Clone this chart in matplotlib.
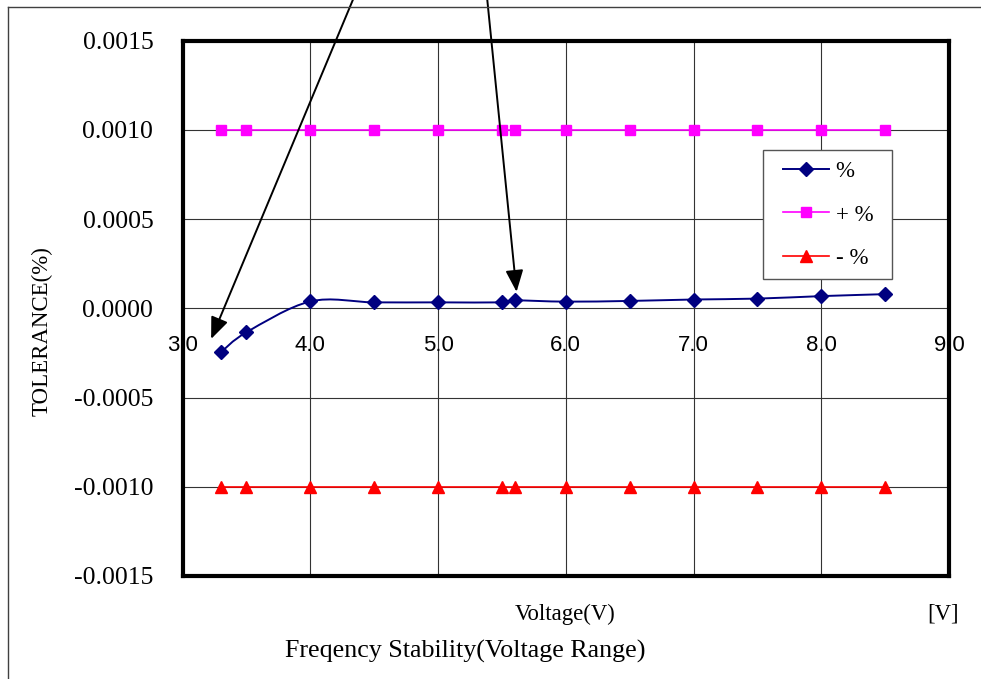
import matplotlib
matplotlib.use("Agg")
import matplotlib.pyplot as plt
from matplotlib.lines import Line2D
from matplotlib.path import Path
from matplotlib.patches import PathPatch, Rectangle
from matplotlib.transforms import ScaledTranslation
import numpy as np

# ---- data ----
voltage = [3.3, 3.5, 4.0, 4.5, 5.0, 5.5, 5.6, 6.0, 6.5, 7.0, 7.5, 8.0, 8.5]
tol_pct = [-0.000247, -0.000135, 0.000038, 0.000033, 0.000033, 0.000033,
           0.000044, 0.000037, 0.000041, 0.000049, 0.000054, 0.000068, 0.000079]
tol_plus = [0.0010] * len(voltage)
tol_minus = [-0.0010] * len(voltage)

x_ticks = [3.0, 4.0, 5.0, 6.0, 7.0, 8.0, 9.0]
y_ticks = [0.0015, 0.0010, 0.0005, 0.0, -0.0005, -0.0010, -0.0015]

NAVY = "#000080"
MAGENTA = "#FF00FF"
RED = "#FF0000"
SERIF = "Liberation Serif"
SANS = "Liberation Sans"

W, H = 981, 679


def smooth_path(xs, ys):
    """Catmull-Rom style bezier through the points (spreadsheet 'smoothed line')."""
    pts = np.column_stack([xs, ys])
    ext = np.vstack([pts[0], pts, pts[-1]])
    verts = [tuple(pts[0])]
    codes = [Path.MOVETO]
    for i in range(len(pts) - 1):
        p0, p1, p2, p3 = ext[i], ext[i + 1], ext[i + 2], ext[i + 3]
        c1 = p1 + (p2 - p0) / 6.0
        c2 = p2 - (p3 - p1) / 6.0
        verts += [tuple(c1), tuple(c2), tuple(p2)]
        codes += [Path.CURVE4] * 3
    return Path(verts, codes)


fig = plt.figure(figsize=(W / 100, H / 100), dpi=100)
ax = fig.add_axes([182.5 / W, 1 - 576 / H, (949 - 182.5) / W, (576 - 40.5) / H])

# outer frame (top and left edges only visible)
fig.add_artist(Line2D([8 / W, 1.0], [1 - 7 / H, 1 - 7 / H],
                      transform=fig.transFigure, color="#404040", lw=1.0))
fig.add_artist(Line2D([8 / W, 8 / W], [1 - 7 / H, 0.0],
                      transform=fig.transFigure, color="#404040", lw=1.0))

ax.set_xlim(3.0, 9.0)
ax.set_ylim(-0.0015, 0.0015)

for xv in x_ticks[1:-1]:
    ax.axvline(xv, color="#333333", lw=0.8, zorder=0)
for yv in y_ticks[1:-1]:
    ax.axhline(yv, color="#333333", lw=0.8, zorder=0)

# series
ax.add_patch(PathPatch(smooth_path(voltage, tol_pct), facecolor="none",
                       edgecolor=NAVY, lw=1.4, zorder=3))
ax.plot(voltage, tol_pct, linestyle="none", marker="D", ms=7,
        color=NAVY, zorder=4)
ax.plot(voltage, tol_plus, color=MAGENTA, lw=1.2, marker="s", ms=7, zorder=3)
ax.plot(voltage, tol_minus, color=RED, lw=1.2, marker="^", ms=8, zorder=3)

# frame
for sp in ax.spines.values():
    sp.set_linewidth(3.0)
    sp.set_color("black")

# y ticks on the left
ax.set_yticks(y_ticks)
ax.set_yticklabels([f"{v:.4f}" for v in y_ticks], fontfamily=SERIF, fontsize=18.5)
ax.tick_params(axis="y", length=0, pad=21)

# x tick labels sit under the zero line
ax.set_xticks([])
below_zero = ax.transData + ScaledTranslation(0, -0.265, fig.dpi_scale_trans)
for xv in x_ticks:
    ax.text(xv, 0.0, f"{xv:.1f}", transform=below_zero, ha="center", va="top",
            fontfamily=SANS, fontsize=16, clip_on=False, zorder=6)

# legend: hand-drawn frame, frameless legend inside it
fig.add_artist(Rectangle((763 / W, 1 - 279 / H), 129 / W, 129 / H,
                         transform=fig.transFigure, facecolor="white",
                         edgecolor="#555555", lw=1.0, zorder=5))
handles = [
    Line2D([], [], color=NAVY, lw=1.4, marker="D", ms=7),
    Line2D([], [], color=MAGENTA, lw=1.2, marker="s", ms=7),
    Line2D([], [], color=RED, lw=1.2, marker="^", ms=8),
]
leg = fig.legend(handles, ["%", "+ %", "- %"], loc="center left",
                 bbox_to_anchor=(783 / W, 1 - 215 / H),
                 prop={"family": SERIF, "size": 16.5}, frameon=False,
                 borderpad=0.0, handlelength=2.0, handletextpad=0.3,
                 labelspacing=1.0, borderaxespad=0.0)
leg.set_zorder(6)

# arrows coming from above the figure
arrow = dict(arrowstyle="-|>,head_length=1.1,head_width=0.45", color="black",
             lw=1.4, mutation_scale=12, shrinkA=0, shrinkB=0)
ax.annotate("", xy=(3.224, -0.000172), xycoords="data",
            xytext=(357, H + 10), textcoords="figure pixels",
            arrowprops=arrow, annotation_clip=False)
ax.annotate("", xy=(5.615, 0.000092), xycoords="data",
            xytext=(486.3, H + 10), textcoords="figure pixels",
            arrowprops=arrow, annotation_clip=False)

# texts
fig.text(42 / W, 1 - 331 / H, "TOLERANCE(%)", rotation=90, ha="center", va="center",
         fontfamily=SERIF, fontsize=16.5)
fig.text(565 / W, 1 - 614 / H, "Voltage(V)", ha="center", va="center",
         fontfamily=SERIF, fontsize=16.4)
fig.text(943 / W, 1 - 614 / H, "[V]", ha="center", va="center",
         fontfamily=SERIF, fontsize=16.4)
fig.text(465 / W, 1 - 651 / H, "Freqency Stability(Voltage Range)", ha="center",
         va="center", fontfamily=SERIF, fontsize=18.7)

fig.savefig("out.png", dpi=100)
